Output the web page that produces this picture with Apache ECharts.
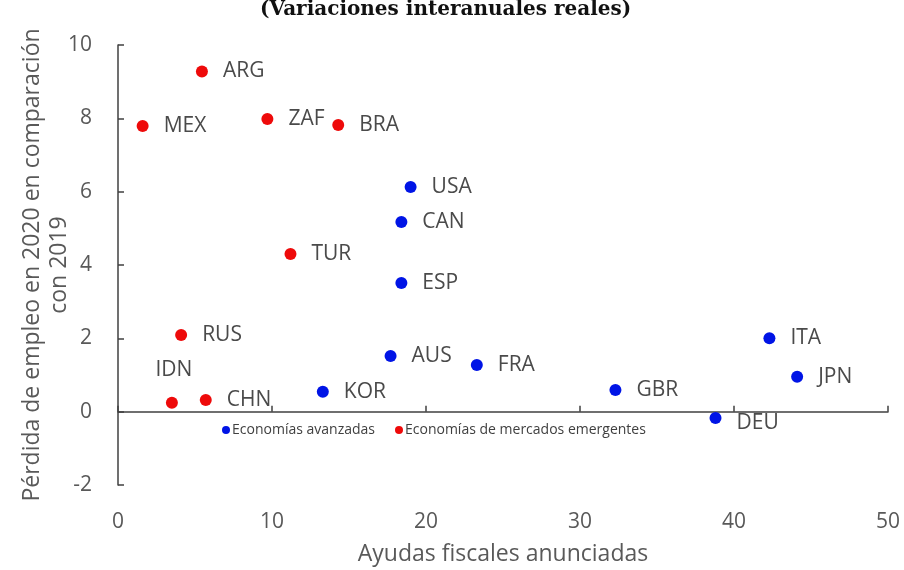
<!DOCTYPE html>
<html>
<head>
    <meta charset="utf-8">
    <title>Ayudas fiscales y pérdida de empleo</title>
    <script src="https://cdn.jsdelivr.net/npm/echarts@6/dist/echarts.min.js"></script>
</head>
<body style="margin:0">
<div id="main" style="width:904px;height:570px;"></div>
<script type="text/javascript">
    // datos
    var avanzadasNombres = ['USA', 'CAN', 'ESP', 'ITA', 'AUS', 'FRA', 'JPN', 'KOR', 'GBR', 'DEU'];
    var avanzadasAyudas = [19.0, 18.4, 18.4, 42.3, 17.7, 23.3, 44.1, 13.3, 32.3, 38.8];
    var avanzadasPerdida = [6.13, 5.17, 3.51, 2.0, 1.52, 1.27, 0.95, 0.54, 0.59, -0.17];

    var emergentesNombres = ['ARG', 'MEX', 'ZAF', 'BRA', 'TUR', 'RUS', 'IDN', 'CHN'];
    var emergentesAyudas = [5.45, 1.6, 9.7, 14.3, 11.2, 4.1, 3.5, 5.7];
    var emergentesPerdida = [9.28, 7.79, 7.98, 7.82, 4.30, 2.09, 0.24, 0.32];

    var serieNombres = ['Economías avanzadas', 'Economías de mercados emergentes'];

    var gris = '#595959';
    var fuente = '"Open Sans", "Noto Sans", sans-serif';

    function puntos(nombres, xs, ys) {
        return nombres.map(function (n, i) {
            var p = { name: n, value: [xs[i], ys[i]] };
            if (n === 'IDN') {
                p.label = { position: 'top', offset: [2, -1] };
            }
            if (n === 'DEU') {
                p.label = { offset: [0, 5] };
            }
            return p;
        });
    }

    var etiqueta = {
        show: true,
        position: 'right',
        distance: 15,
        formatter: '{b}',
        color: '#4a4a4a',
        fontSize: 21,
        fontFamily: fuente
    };

    var myChart = echarts.init(document.getElementById('main'));
    myChart.setOption({
        animation: false,
        title: {
            text: '(Variaciones interanuales reales)',
            left: 255,
            top: -5,
            textStyle: {
                fontFamily: '"DejaVu Serif", serif',
                fontWeight: 'bold',
                fontSize: 20,
                color: '#111'
            }
        },
        legend: {
            data: serieNombres,
            left: 217,
            top: 418,
            itemWidth: 8,
            itemHeight: 8,
            itemGap: 20,
            icon: 'circle',
            textStyle: { fontSize: 14, color: '#404040', fontFamily: fuente, padding: [0, 0, 0, -3] }
        },
        grid: { left: 118, right: 16, top: 45, bottom: 85, outerBoundsMode: 'none' },
        xAxis: [
            {
                type: 'value',
                min: 0, max: 50, interval: 10,
                position: 'bottom',
                name: 'Ayudas fiscales anunciadas',
                nameLocation: 'middle',
                nameGap: 58,
                nameMoveOverlap: false,
                nameTextStyle: { fontSize: 23, color: gris, fontFamily: fuente },
                axisLine: { show: false, onZero: false },
                axisTick: { show: false },
                splitLine: { show: false },
                axisLabel: { margin: 27, fontSize: 21, color: gris, fontFamily: fuente }
            },
            {
                type: 'value',
                min: 0, max: 50, interval: 10,
                position: 'bottom',
                axisLine: { show: true, onZero: true, lineStyle: { color: '#404040', width: 1.5 } },
                axisTick: { show: true, inside: true, length: 6, lineStyle: { color: '#404040', width: 1.5 } },
                splitLine: { show: false },
                axisLabel: { show: false }
            }
        ],
        yAxis: {
            type: 'value',
            min: -2, max: 10, interval: 2,
            name: 'Pérdida de empleo en 2020 en comparación\ncon 2019',
            nameLocation: 'middle',
            nameGap: 45,
            nameMoveOverlap: false,
            nameTextStyle: { fontSize: 23, color: gris, fontFamily: fuente, lineHeight: 27 },
            axisLine: { show: true, lineStyle: { color: '#404040', width: 1.5 } },
            axisTick: { show: true, inside: true, length: 6, lineStyle: { color: '#404040', width: 1.5 } },
            splitLine: { show: false },
            axisLabel: { margin: 26, fontSize: 21, color: gris, fontFamily: fuente }
        },
        series: [
            {
                name: serieNombres[0],
                type: 'scatter',
                xAxisIndex: 0,
                symbolSize: 12,
                itemStyle: { color: '#0014e6', opacity: 1 },
                label: etiqueta,
                data: puntos(avanzadasNombres, avanzadasAyudas, avanzadasPerdida)
            },
            {
                name: serieNombres[1],
                type: 'scatter',
                xAxisIndex: 0,
                symbolSize: 12,
                itemStyle: { color: '#ee0a0a', opacity: 1 },
                label: etiqueta,
                data: puntos(emergentesNombres, emergentesAyudas, emergentesPerdida)
            }
        ]
    });
</script>
</body>
</html>
